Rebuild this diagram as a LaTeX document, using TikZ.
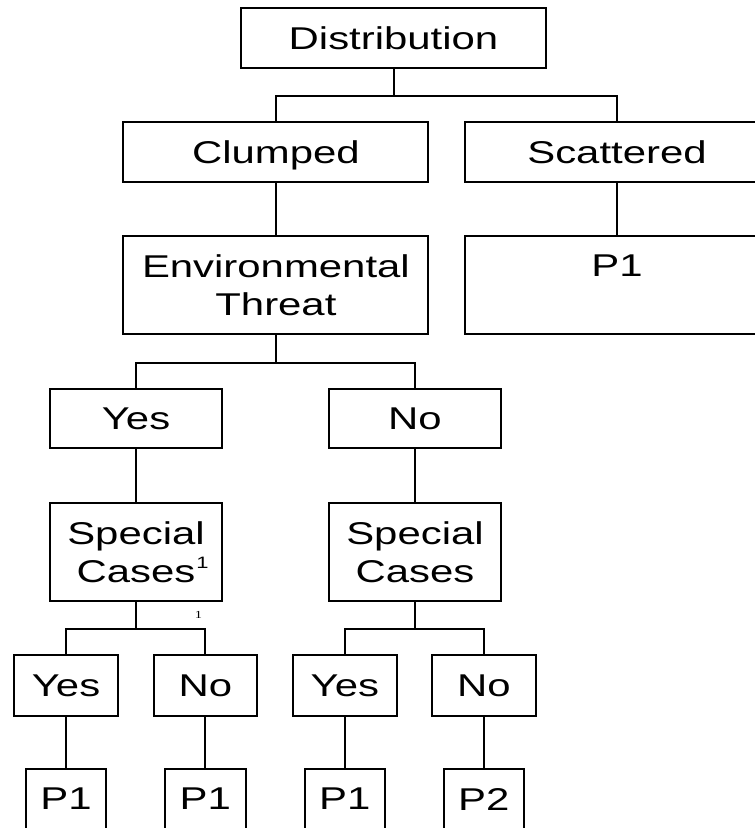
\documentclass[tikz,border=0pt]{standalone}
\usepackage{fontspec}
\setmainfont{Liberation Sans}[FakeStretch=1.33]
\newfontfamily\smallserif{Liberation Serif}[FakeStretch=1.33]
\tikzset{
  box/.style={draw, line width=2pt, inner sep=0pt, align=center,
    text depth=0pt, font=\fontsize{31.5}{38}\selectfont},
  conn/.style={line width=2pt},
  widebox/.style={box, minimum width=305pt, minimum height=60pt},
  tallbox/.style={box, minimum width=305pt, minimum height=98pt},
  midbox/.style={box, minimum width=172pt, minimum height=59pt},
  midtall/.style={box, minimum width=172pt, minimum height=98pt},
  smallbox/.style={box, minimum width=103.5pt, minimum height=61pt},
  leafbox/.style={box, minimum width=80.5pt, minimum height=60pt},
}
\begin{document}
\begin{tikzpicture}[x=1pt, y=-1pt]
\useasboundingbox (0,0) rectangle (755,828);
\clip (0,0) rectangle (755,828);
% boxes
\node[widebox] (dist) at (393.5,38) {Distribution};
\node[widebox] (clump) at (275.9,151.7) {Clumped};
\node[widebox] (scat) at (617,151.7) {Scattered};
\node[tallbox] (env) at (275.9,284.9) {Environmental\\Threat};
\node[tallbox] (ptop) at (617,284.9) {P1\\\mbox{}};
\node[midbox] (yes) at (136,418.5) {Yes};
\node[midbox] (no) at (415,418.5) {No};
\node[midtall] (sca) at (136,552) {Special\\Cases\rlap{\hspace{1pt}\raisebox{14.3pt}{\fontsize{16.5}{16.5}\selectfont 1}}};
\node[midtall] (scb) at (415,552) {Special\\Cases};
\node[smallbox] (yesa) at (66,685.5) {Yes};
\node[smallbox] (noa) at (205.3,685.5) {No};
\node[smallbox] (yesb) at (344.8,685.5) {Yes};
\node[smallbox] (nob) at (483.8,685.5) {No};
\node[leafbox] (pa) at (66,799) {P1};
\node[leafbox] (pb) at (205.3,799) {P1};
\node[leafbox] (pc) at (344.8,799) {P1};
\node[leafbox] (pd) at (483.8,799) {P2};
\node[inner sep=0pt, font=\smallserif\fontsize{10.8}{12}\selectfont] (fn) at (198.5,614.7) {1};
% connectors
\draw[conn] (dist.south) -- ++(0,27) coordinate (j1);
\draw[conn] (clump.north) |- (j1) -| (scat.north);
\draw[conn] (clump.south) -- (env.north);
\draw[conn] (scat.south) -- (ptop.north);
\draw[conn] (env.south) -- ++(0,27.7) coordinate (j2);
\draw[conn] (yes.north) |- (j2) -| (no.north);
\draw[conn] (yes.south) -- (sca.north);
\draw[conn] (no.south) -- (scb.north);
\draw[conn] (sca.south) -- ++(0,27) coordinate (j3);
\draw[conn] (yesa.north) |- (j3) -| (noa.north);
\draw[conn] (scb.south) -- ++(0,27) coordinate (j4);
\draw[conn] (yesb.north) |- (j4) -| (nob.north);
\draw[conn] (yesa.south) -- (pa.north);
\draw[conn] (noa.south) -- (pb.north);
\draw[conn] (yesb.south) -- (pc.north);
\draw[conn] (nob.south) -- (pd.north);
\end{tikzpicture}
\end{document}
